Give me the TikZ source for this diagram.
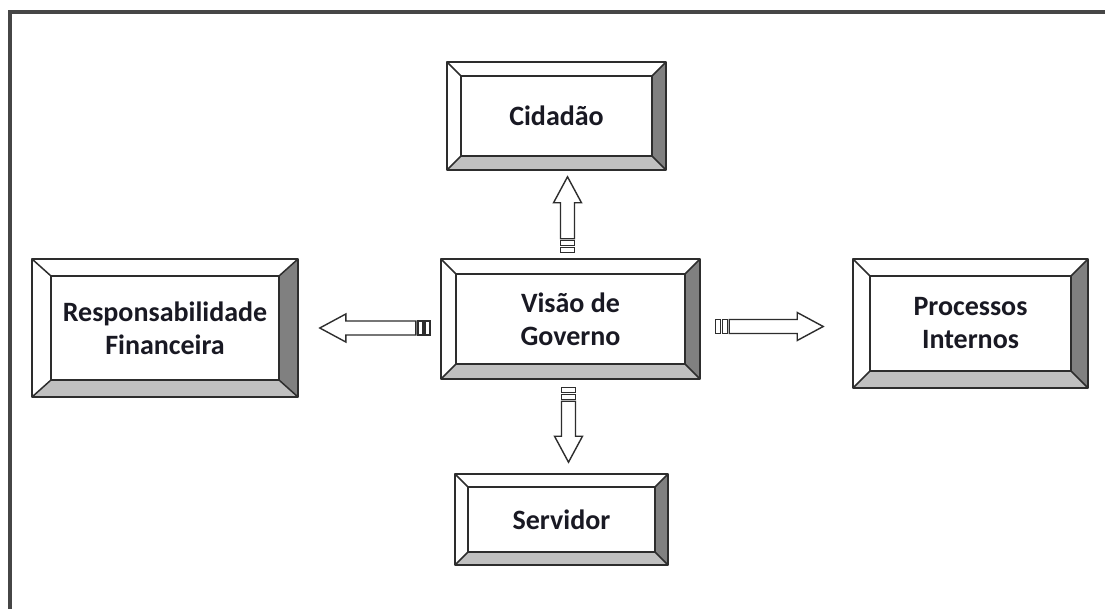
\documentclass[tikz,border=0pt]{standalone}
\usepackage{fontspec}
\setmainfont{Carlito}
\usetikzlibrary{calc,fit}
\definecolor{bandB}{RGB}{192,192,192}
\definecolor{bandR}{RGB}{128,128,128}
\definecolor{edgec}{RGB}{45,45,45}
\definecolor{framec}{RGB}{70,70,70}
\definecolor{txtc}{RGB}{25,25,35}
\tikzset{
  boxline/.style={draw=edgec, line width=1.5pt, line join=round},
  arrowline/.style={draw=edgec, line width=1.4pt, fill=white, line join=miter},
  txt/.style={font=\fontsize{28}{33}\selectfont\bfseries, align=center, text=txtc, inner sep=0pt},
}
% #1 name, #2 x1, #3 y1, #4 x2, #5 y2, #6 h inset, #7 v inset, #8 text
\newcommand\bevbox[8]{%
  \coordinate (#1-a) at (#2,#3);
  \coordinate (#1-b) at (#4,#3);
  \coordinate (#1-c) at (#4,#5);
  \coordinate (#1-d) at (#2,#5);
  \coordinate (#1-ia) at (#2+#6,#3+#7);
  \coordinate (#1-ib) at (#4-#6,#3+#7);
  \coordinate (#1-ic) at (#4-#6,#5-#7);
  \coordinate (#1-id) at (#2+#6,#5-#7);
  \fill[white] (#1-a) -- (#1-b) -- (#1-ib) -- (#1-ia) -- cycle;
  \fill[white] (#1-a) -- (#1-ia) -- (#1-id) -- (#1-d) -- cycle;
  \fill[bandB] (#1-d) -- (#1-c) -- (#1-ic) -- (#1-id) -- cycle;
  \fill[bandR] (#1-b) -- (#1-c) -- (#1-ic) -- (#1-ib) -- cycle;
  \draw[boxline] (#1-a) rectangle (#1-c);
  \draw[boxline] (#1-ia) rectangle (#1-ic);
  \draw[boxline] (#1-a) -- (#1-ia) (#1-b) -- (#1-ib) (#1-c) -- (#1-ic) (#1-d) -- (#1-id);
  \node[fit=(#1-a)(#1-c), inner sep=0pt] (#1) {};
  \node[txt] (#1-t) at (#1.center) {#8};
}
% #1 start, #2 angle, #3 length
\newcommand\blockarrow[3]{%
  \begin{scope}[shift={#1}, rotate=#2]
    \draw[arrowline] (0,-7) rectangle (5,7);
    \draw[arrowline] (7,-7) rectangle (12,7);
    \draw[arrowline] (14,-7) -- (#3-26,-7) -- (#3-26,-14) -- (#3,0)
      -- (#3-26,14) -- (#3-26,7) -- (14,7) -- cycle;
  \end{scope}
}
\begin{document}
\begin{tikzpicture}[x=1pt, y=-1pt]
  \useasboundingbox (0,0) rectangle (1105,609);
  \fill[white] (0,0) rectangle (1105,609);
  \draw[framec, line width=3.5pt] (10,615) -- (10,12) -- (1110,12);

  \bevbox{cid}{447}{62}{666}{170}{14}{14}{Cidadão}
  \bevbox{gov}{441}{259}{700}{379}{15}{15}{Visão de\\Governo}
  \bevbox{resp}{32}{259}{298}{397}{19}{17}{Responsabilidade\\Financeira}
  \bevbox{proc}{853}{259}{1088}{388}{17}{17}{Processos\\Internos}
  \bevbox{serv}{455}{474}{668}{565}{13}{13}{Servidor}

  \blockarrow{($(gov.north)+(-3,-6)$)}{90}{76}
  \blockarrow{($(gov.south)+(-2,8)$)}{-90}{75}
  \blockarrow{($(gov.west |- resp.east)+(-11,0)$)}{180}{110}
  \blockarrow{($(gov.east |- proc.east)+(15,3)$)}{0}{108}
\end{tikzpicture}
\end{document}
